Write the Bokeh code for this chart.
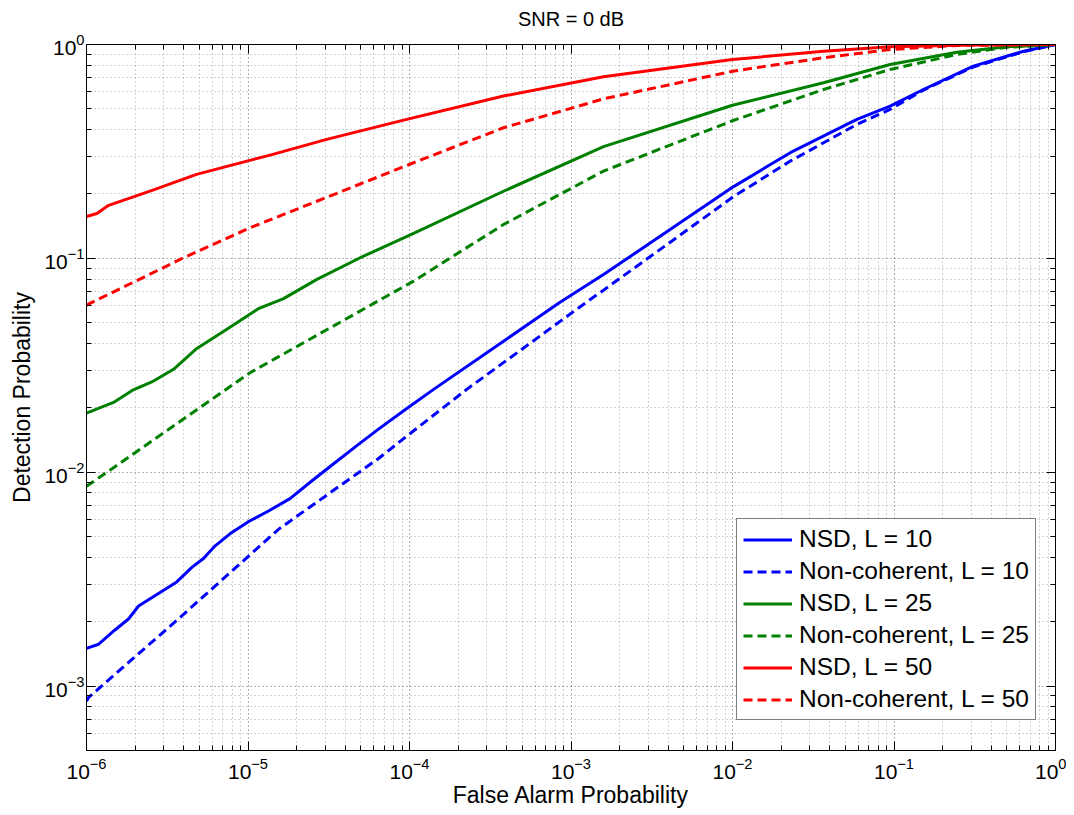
from bokeh.plotting import figure
from bokeh.models import FixedTicker, LogAxis, Legend, LegendItem, Range1d
from bokeh.embed import file_html
from bokeh.resources import INLINE

# ---- data ----
nsd10_x = [1e-6, 1.19e-6, 1.5e-6, 1.82e-6, 2.1e-6, 2.79e-6, 3.62e-6, 4.49e-6, 5.3e-6, 6.26e-6,
           7.94e-6, 1e-5, 1.34e-5, 1.82e-5, 2.48e-5, 3.47e-5, 4.83e-5, 6.43e-5, 9.2e-5, 1.41e-4,
           3.82e-4, 8.6e-4, 1.59e-3, 1.01e-2, 2.28e-2, 5.89e-2, 9.46e-2, 0.152, 0.31, 0.634, 1.0]
nsd10_y = [0.0015, 0.00157, 0.00183, 0.00206, 0.00237, 0.00271, 0.00307, 0.00359, 0.00395, 0.00453,
           0.00523, 0.00586, 0.00659, 0.00753, 0.0091, 0.0111, 0.0135, 0.0159, 0.0194, 0.0244,
           0.041, 0.0625, 0.084, 0.216, 0.312, 0.447, 0.515, 0.616, 0.792, 0.93, 1.0]

nc10_x = [1e-6, 1.03e-6, 3.7e-6, 1.55e-5, 6.43e-5, 9.2e-5, 2.26e-4, 1.25e-3, 1.59e-3, 1.01e-2,
          2.28e-2, 5.89e-2, 9.46e-2, 0.152, 0.31, 0.634, 1.0]
nc10_y = [0.00085, 0.000885, 0.00206, 0.00542, 0.0116, 0.01436, 0.0244, 0.0625, 0.071, 0.194,
          0.285, 0.423, 0.497, 0.612, 0.785, 0.925, 1.0]

nsd25_x = [1e-6, 1.47e-6, 1.95e-6, 2.6e-6, 3.46e-6, 4.82e-6, 7.4e-6, 1.16e-5, 1.66e-5, 2.67e-5,
           4.95e-5, 1.06e-4, 3.82e-4, 1.59e-3, 1e-2, 0.0366, 0.0946, 0.245, 0.5, 1.0]
nsd25_y = [0.0189, 0.0212, 0.0243, 0.0267, 0.0303, 0.0379, 0.0466, 0.0582, 0.0648, 0.0798,
           0.1007, 0.131, 0.206, 0.333, 0.52, 0.662, 0.806, 0.92, 0.975, 1.0]

nc25_x = [1e-6, 1.47e-6, 1.03e-5, 1.06e-4, 3.82e-4, 1.59e-3, 1e-2, 0.0366, 0.0946, 0.245, 0.5, 1.0]
nc25_y = [0.0086, 0.0105, 0.0292, 0.0783, 0.144, 0.256, 0.44, 0.616, 0.764, 0.898, 0.97, 1.0]

nsd50_x = [1e-6, 1.16e-6, 1.37e-6, 1.95e-6, 2.6e-6, 4.8e-6, 1.37e-5, 3.07e-5, 9.2e-5, 3.82e-4,
           1.59e-3, 1e-2, 0.0366, 0.0946, 0.3, 1.0]
nsd50_y = [0.157, 0.162, 0.177, 0.194, 0.209, 0.247, 0.304, 0.360, 0.443, 0.574,
           0.706, 0.851, 0.93, 0.975, 0.995, 1.0]

nc50_x = [1e-6, 4e-6, 1.03e-5, 2.67e-5, 1.06e-4, 3.82e-4, 1.59e-3, 1e-2, 0.0366, 0.0946, 0.245, 1.0]
nc50_y = [0.0605, 0.1007, 0.139, 0.185, 0.280, 0.408, 0.557, 0.75, 0.867, 0.947, 0.99, 1.0]

series_labels = ["NSD, L = 10", "Non-coherent, L = 10", "NSD, L = 25",
                 "Non-coherent, L = 25", "NSD, L = 50", "Non-coherent, L = 50"]

title_text = "SNR = 0 dB"
x_label = "False Alarm Probability"
y_label = "Detection Probability"

x_major = [1e-6, 1e-5, 1e-4, 1e-3, 1e-2, 1e-1, 1.0]
y_major = [1e-3, 1e-2, 1e-1, 1.0]

FONT = "Liberation Sans"

x_minor = [m * d for d in [1e-6, 1e-5, 1e-4, 1e-3, 1e-2, 1e-1] for m in range(2, 10)]
y_minor = [m * d for d in [1e-4, 1e-3, 1e-2, 1e-1] for m in range(2, 10) if m * d >= 5e-4]

p = figure(width=1066, height=814, x_axis_type="log", y_axis_type="log",
           x_range=Range1d(1e-6, 1.0), y_range=Range1d(5e-4, 1.0),
           output_backend="svg", toolbar_location=None,
           min_border_left=86, min_border_right=11, min_border_top=44, min_border_bottom=64)
p.background_fill_color = "white"
p.border_fill_color = "white"
p.outline_line_color = "black"
p.outline_line_width = 1

xt = FixedTicker(ticks=x_major, minor_ticks=x_minor)
yt = FixedTicker(ticks=y_major, minor_ticks=y_minor)

for ax, t in ((p.xaxis[0], xt), (p.yaxis[0], yt)):
    ax.ticker = t
    ax.major_tick_in = 9
    ax.major_tick_out = 0
    ax.minor_tick_in = 5
    ax.minor_tick_out = 0
    ax.axis_line_color = "black"
    ax.major_tick_line_color = "black"
    ax.minor_tick_line_color = "black"
    ax.major_label_text_font = FONT
    ax.major_label_text_font_size = "21px"
    ax.major_label_text_color = "black"
    ax.axis_label_text_font = FONT
    ax.axis_label_text_font_size = "23px"
    ax.axis_label_text_font_style = "normal"
    ax.axis_label_text_color = "black"

p.xaxis.axis_label = x_label
p.yaxis.axis_label = y_label
p.xaxis.major_label_standoff = 7
p.xaxis.axis_label_standoff = 0
p.yaxis.major_label_standoff = 2
p.yaxis.axis_label_standoff = 6

# mirrored axes (top/right) with inward ticks and no tick labels; top one carries the title
top = LogAxis(ticker=FixedTicker(ticks=x_major, minor_ticks=x_minor))
right = LogAxis(ticker=FixedTicker(ticks=y_major, minor_ticks=y_minor))
for ax in (top, right):
    ax.major_tick_in = 9
    ax.major_tick_out = 0
    ax.minor_tick_in = 5
    ax.minor_tick_out = 0
    ax.major_label_text_color = None
    ax.major_label_text_font_size = "10px"
    ax.major_label_standoff = 0
    ax.axis_line_color = "black"
top.axis_label = title_text
top.axis_label_text_font = FONT
top.axis_label_text_font_size = "20px"
top.axis_label_text_font_style = "normal"
top.axis_label_text_color = "black"
top.axis_label_standoff = 15
p.add_layout(top, "above")
p.add_layout(right, "right")

for g, t in ((p.xgrid[0], xt), (p.ygrid[0], yt)):
    g.ticker = t
    g.grid_line_color = "black"
    g.grid_line_alpha = 0.6
    g.grid_line_dash = "1 3"
    g.grid_line_width = 1
    g.minor_grid_line_color = "#666666"
    g.minor_grid_line_alpha = 0.55
    g.minor_grid_line_dash = "1 3"
    g.minor_grid_line_width = 1

data = [(nsd10_x, nsd10_y, "#0000ff", "solid"),
        (nc10_x, nc10_y, "#0000ff", "9 5"),
        (nsd25_x, nsd25_y, "#008000", "solid"),
        (nc25_x, nc25_y, "#008000", "9 5"),
        (nsd50_x, nsd50_y, "#ff0000", "solid"),
        (nc50_x, nc50_y, "#ff0000", "9 5")]

items = []
for (xs, ys, col, dash), lab in zip(data, series_labels):
    r = p.line(xs, ys, line_color=col, line_width=3, line_dash=dash, line_join="round")
    items.append(LegendItem(label=lab, renderers=[r]))

legend = Legend(items=items, location=(650, 30))
legend.label_text_font = FONT
legend.label_text_font_size = "24.5px"
legend.label_text_color = "black"
legend.glyph_width = 49
legend.glyph_height = 27
legend.label_height = 27
legend.spacing = 4
legend.padding = 6
legend.margin = 0
legend.label_standoff = 7
legend.border_line_color = "black"
legend.border_line_width = 1
legend.background_fill_color = "white"
legend.background_fill_alpha = 1.0
p.add_layout(legend, "center")

open("out.html", "w").write(file_html(p, INLINE))
